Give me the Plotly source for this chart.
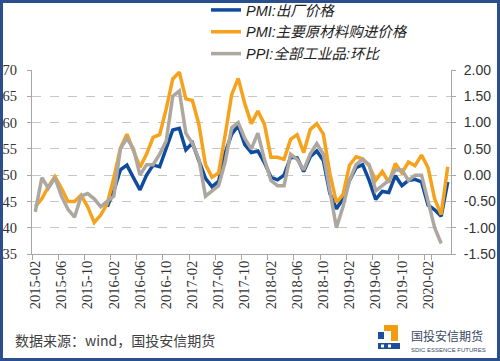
import plotly.graph_objects as go

months = [
    "2015-02","2015-03","2015-04","2015-05","2015-06","2015-07","2015-08","2015-09","2015-10","2015-11","2015-12",
    "2016-01","2016-02","2016-03","2016-04","2016-05","2016-06","2016-07","2016-08","2016-09","2016-10","2016-11","2016-12",
    "2017-01","2017-02","2017-03","2017-04","2017-05","2017-06","2017-07","2017-08","2017-09","2017-10","2017-11","2017-12",
    "2018-01","2018-02","2018-03","2018-04","2018-05","2018-06","2018-07","2018-08","2018-09","2018-10","2018-11","2018-12",
    "2019-01","2019-02","2019-03","2019-04","2019-05","2019-06","2019-07","2019-08","2019-09","2019-10","2019-11","2019-12",
    "2020-01","2020-02","2020-03","2020-04","2020-05",
]

pmi_output = [
    None, None, None, None, None, None, None, None, None, None, None,
    44.0, 47.0, 51.0, 51.9, 49.5, 47.2, 50.0, 51.9, 51.6, 55.2, 58.6, 58.9,
    54.8, 56.1, 52.9, 49.4, 47.8, 48.8, 54.2, 57.8, 59.4, 55.8, 54.3, 54.6,
    52.4, 49.6, 49.1, 50.0, 53.4, 53.3, 50.7, 53.5, 54.6, 52.8, 46.5, 43.6,
    45.5, 49.0, 51.4, 52.0, 49.0, 45.4, 46.9, 46.7, 49.9, 48.0, 49.0, 49.2,
    48.7, 44.3, 43.4, 42.2, 48.7,
]

pmi_input = [
    44.0, 45.5, 47.8, 49.7, 47.5, 45.0, 45.0, 46.2, 44.0, 41.0, 42.4,
    44.6, 49.5, 55.1, 57.8, 54.5, 51.5, 54.0, 57.2, 57.7, 62.6, 68.3, 69.6,
    64.5, 64.2, 59.6, 52.0, 49.6, 50.4, 57.6, 65.3, 68.4, 63.6, 59.8, 62.2,
    59.7, 53.4, 53.4, 53.0, 56.8, 57.7, 54.3, 58.7, 59.8, 57.8, 50.3, 44.8,
    46.3, 51.9, 53.5, 53.1, 51.8, 49.0, 50.7, 48.6, 52.2, 50.4, 52.5, 51.8,
    53.8, 51.4, 45.5, 42.5, 51.6,
]

ppi_mom = [
    -0.7, -0.05, -0.25, -0.05, -0.4, -0.65, -0.8, -0.4, -0.35, -0.45, -0.6,
    -0.5, -0.4, 0.5, 0.7, 0.5, 0.0, 0.2, 0.2, 0.4, 0.65, 1.5, 1.6,
    0.8, 0.6, 0.3, -0.4, -0.3, -0.2, 0.25, 0.9, 1.0, 0.7, 0.5, 0.8,
    0.3, -0.1, -0.2, -0.2, 0.4, 0.3, 0.1, 0.4, 0.6, 0.4, -0.3, -1.0,
    -0.6, -0.1, 0.2, 0.3, 0.2, -0.3, -0.2, -0.1, 0.1, 0.1, -0.1, 0.0,
    0.0, -0.5, -1.0, -1.3, None,
]

tick_labels = ["2015-02","2015-06","2015-10","2016-02","2016-06","2016-10","2017-02",
               "2017-06","2017-10","2018-02","2018-06","2018-10","2019-02","2019-06",
               "2019-10","2020-02"]
right_tickvals = [-1.5, -1.0, -0.5, 0.0, 0.5, 1.0, 1.5, 2.0]
right_ticktext = ["-1.50", "-1.00", "-0.50", "0.00", "0.50", "1.00", "1.50", "2.00"]

names = ["PMI:出厂价格", "PMI:主要原材料购进价格", "PPI:全部工业品:环比"]
colors = ["#0F4C9E", "#F6A21C", "#ADA7A0"]

W, H = 500, 361
L, R, T, B = 32, 451, 70, 254

def px(x):
    return (x - L) / (R - L)

def py(y):
    return (B - y) / (B - T)

fig = go.Figure()
fig.add_trace(go.Scatter(x=months, y=pmi_output, name=names[0], mode="lines",
                         line=dict(color=colors[0], width=3.5), yaxis="y"))
fig.add_trace(go.Scatter(x=months, y=pmi_input, name=names[1], mode="lines",
                         line=dict(color=colors[1], width=3.5), yaxis="y"))
fig.add_trace(go.Scatter(x=months, y=ppi_mom, name=names[2], mode="lines",
                         line=dict(color=colors[2], width=3.5), yaxis="y2"))

axis_col = "#A6A6A6"
fig.update_layout(
    width=W, height=H,
    margin=dict(l=L, r=W - R, t=T, b=H - B, pad=0, autoexpand=False),
    paper_bgcolor="white", plot_bgcolor="white",
    showlegend=True,
    legend=dict(x=px(206), y=py(-6), xanchor="left", yanchor="top",
                font=dict(family="Liberation Sans, Noto Sans CJK SC", size=14.5,
                          color="#222222", style="italic"),
                bgcolor="rgba(0,0,0,0)", tracegroupgap=0, itemwidth=30),
    xaxis=dict(type="category", categoryorder="array", categoryarray=months,
               range=[-0.5, len(months) - 0.5], automargin=False,
               tickmode="array", tickvals=tick_labels, ticktext=tick_labels,
               tickson="boundaries", ticks="outside", ticklen=5, tickcolor=axis_col,
               tickangle=-90, showline=True, linecolor=axis_col, linewidth=1,
               showgrid=False, zeroline=False,
               tickfont=dict(family="Liberation Serif", size=14.5, color="#333333")),
    yaxis=dict(range=[35, 70], tick0=35, dtick=5, showgrid=True, automargin=False,
               gridcolor="#C6C6C6", griddash="dash", gridwidth=1,
               showline=True, linecolor=axis_col, ticks="outside", ticklen=4,
               tickcolor=axis_col, zeroline=False, ticklabelstandoff=7,
               tickfont=dict(family="Liberation Serif", size=14.5, color="#333333")),
    yaxis2=dict(range=[-1.5, 2.0], overlaying="y", side="right", automargin=False,
                tickmode="array", tickvals=right_tickvals, ticktext=right_ticktext,
                showgrid=False, showline=True, linecolor=axis_col, ticks="outside",
                ticklen=4, tickcolor=axis_col, zeroline=False, ticklabelstandoff=5,
                tickfont=dict(family="Liberation Sans", size=14, color="#333333")),
)

shapes = []
# outer frame
shapes.append(dict(type="rect", xref="paper", yref="paper",
                   x0=px(1.5), x1=px(498.5), y0=py(359.5), y1=py(1.5),
                   line=dict(color="#2B4E8F", width=3), fillcolor="rgba(0,0,0,0)", layer="above"))
# logo blocks
def rect(x0, y0, x1, y1, col):
    return dict(type="rect", xref="paper", yref="paper",
                x0=px(x0), x1=px(x1), y0=py(y1), y1=py(y0),
                line=dict(width=0), fillcolor=col, layer="above")
shapes.append(rect(384, 325, 398, 331, "#F39C12"))
shapes.append(rect(391, 325, 398, 341, "#F39C12"))
shapes.append(rect(378, 332, 384, 339, "#1B4E9B"))
shapes.append(rect(378, 343, 400, 349, "#1B4E9B"))
shapes.append(rect(381, 344.5, 384, 347.5, "white"))
shapes.append(rect(388, 344.5, 391, 347.5, "white"))
fig.update_layout(shapes=shapes)

fig.add_annotation(xref="paper", yref="paper", x=px(13), y=py(340), xanchor="left",
                   yanchor="middle", showarrow=False,
                   text="数据来源：wind，国投安信期货",
                   font=dict(family="Noto Sans CJK SC", size=14, color="#404040"))
fig.add_annotation(xref="paper", yref="paper", x=px(409), y=py(335), xanchor="left",
                   yanchor="middle", showarrow=False, text="国投安信期货",
                   font=dict(family="Noto Sans CJK SC", size=12, color="#3A4A66"))
fig.add_annotation(xref="paper", yref="paper", x=px(409), y=py(350), xanchor="left",
                   yanchor="middle", showarrow=False, text="SDIC ESSENCE FUTURES",
                   font=dict(family="Liberation Sans", size=6, color="#3A4A66"))

fig.write_html("out.html", config={"displayModeBar": False},
               post_script="document.body.style.margin='0px';document.body.style.padding='0px';")
